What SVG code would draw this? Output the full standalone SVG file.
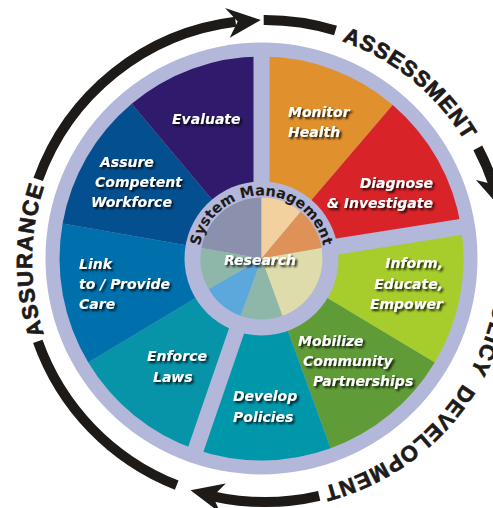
<svg xmlns="http://www.w3.org/2000/svg" width="493" height="508" viewBox="0 0 493 508">
<defs>
<style>
.lab{font-family:"DejaVu Sans",sans-serif;font-weight:bold;font-style:italic;font-size:14px;fill:#fff;filter:url(#sh)}
.ring{font-family:"Liberation Sans",Arial,sans-serif;font-weight:bold;font-size:22px;fill:#1d1a18;stroke:#1d1a18;stroke-width:0.7}
.hub{font-family:"DejaVu Sans",sans-serif;font-weight:bold;font-size:14.5px;fill:#1d1a18}
.arc{fill:none;stroke:#1d1a18;stroke-width:10}
.head{fill:#1d1a18}
.gap{stroke:#b3b7d9;stroke-width:16}
.lav{fill:#b3b7d9}
</style>
<filter id="sh" x="-20%" y="-30%" width="140%" height="170%">
<feDropShadow dx="2" dy="2" stdDeviation="1.2" flood-color="#000" flood-opacity="0.85"/>
</filter>
<path id="tc" d="M265,28 A233,233 0 1,1 265,494 A233,233 0 1,1 265,28"/>
<path id="hc" d="M198.5,258.5 A63,63 0 0,1 324.5,258.5"/>
</defs>
<rect width="493" height="508" fill="#fff"/>

<g id="connectors">
<path class="arc" d="M38.2,179.4 A241,241 0 0,1 235.6,21.8"/>
<polygon class="head" points="260.8,20 225,8.1 237.7,21.5 229.7,37.8"/>
<path class="arc" d="M263.7,20 A241,241 0 0,1 335.5,30.5"/>
<path class="arc" d="M477.8,147.9 A241,241 0 0,1 493.5,184.5"/>
<polygon class="head" points="499.8,206.8 504,169.2 493.5,184.5 476,180"/>
<path class="arc" d="M319.2,495.8 A241,241 0 0,1 212.8,496.3"/>
<polygon class="head" points="190.5,490.2 225.8,483.6 212.8,496.3 220.6,513.1"/>
<path class="arc" d="M176.7,485.2 A241,241 0 0,1 37.8,341.4"/>
</g>

<g id="phase-labels">
<text class="ring" letter-spacing="1"><textPath href="#tc" startOffset="78.5">ASSESSMENT</textPath></text>
<text class="ring" letter-spacing="1.3"><textPath href="#tc" startOffset="392">POLICY</textPath></text>
<text class="ring" letter-spacing="1"><textPath href="#tc" startOffset="495">DEVELOPMENT</textPath></text>
<text class="ring" letter-spacing="1.4"><textPath href="#tc" startOffset="1022.8">ASSURANCE</textPath></text>
</g>

<circle class="lav" cx="261.5" cy="258.5" r="216"/>

<g id="monitor-health">
<path d="M261.5,258.5 L261.5,56.5 A202,202 0 0,1 392.7,104.9 Z" fill="#e0902c"/>
<text class="lab" x="288" y="117">Monitor</text>
<text class="lab" x="288" y="137">Health</text>
</g>
<g id="diagnose-investigate">
<path d="M261.5,258.5 L392.7,104.9 A202,202 0 0,1 461,226.9 Z" fill="#d82328"/>
<text class="lab" x="433" y="188" text-anchor="end">Diagnose</text>
<text class="lab" x="433" y="208" text-anchor="end">&amp; Investigate</text>
</g>
<g id="inform-educate-empower">
<path d="M261.5,258.5 L461,226.9 A202,202 0 0,1 434.7,362.5 Z" fill="#a6cd2b"/>
<text class="lab" x="443" y="268" text-anchor="end">Inform,</text>
<text class="lab" x="443" y="289" text-anchor="end">Educate,</text>
<text class="lab" x="443" y="309" text-anchor="end">Empower</text>
</g>
<g id="mobilize-partnerships">
<path d="M261.5,258.5 L434.7,362.5 A202,202 0 0,1 330.6,448.3 Z" fill="#5f9b36"/>
<text class="lab" x="298" y="346">Mobilize</text>
<text class="lab" x="303" y="366">Community</text>
<text class="lab" x="313" y="386">Partnerships</text>
</g>
<g id="develop-policies">
<path d="M261.5,258.5 L330.6,448.3 A202,202 0 0,1 195.7,449.5 Z" fill="#0097ab"/>
<text class="lab" x="233" y="401">Develop</text>
<text class="lab" x="233" y="422">Policies</text>
</g>
<g id="enforce-laws">
<path d="M261.5,258.5 L195.7,449.5 A202,202 0 0,1 88.3,362.5 Z" fill="#0793a8"/>
<text class="lab" x="147" y="361">Enforce</text>
<text class="lab" x="153" y="382">Laws</text>
</g>
<g id="link-provide-care">
<path d="M261.5,258.5 L88.3,362.5 A202,202 0 0,1 62.6,223.4 Z" fill="#0070ad"/>
<text class="lab" x="79" y="269">Link</text>
<text class="lab" x="79" y="289">to / Provide</text>
<text class="lab" x="79" y="309">Care</text>
</g>
<g id="assure-workforce">
<path d="M261.5,258.5 L62.6,223.4 A202,202 0 0,1 131.7,103.8 Z" fill="#044f90"/>
<text class="lab" x="100" y="167">Assure</text>
<text class="lab" x="95" y="187">Competent</text>
<text class="lab" x="91" y="207">Workforce</text>
</g>
<g id="evaluate">
<path d="M261.5,258.5 L131.7,103.8 A202,202 0 0,1 261.5,56.5 Z" fill="#2f1a6c"/>
<text class="lab" x="172" y="124">Evaluate</text>
</g>

<g id="dividers">
<line class="gap" x1="261.5" y1="258.5" x2="261.5" y2="48.5"/>
<line class="gap" x1="261.5" y1="258.5" x2="468.9" y2="225.6"/>
<line class="gap" x1="261.5" y1="258.5" x2="193.1" y2="457.1"/>
</g>

<g id="hub">
<circle class="lav" cx="261.5" cy="258.5" r="77"/>
<path d="M261.5,258.5 L201.4,247.9 A61,61 0 0,1 261.5,197.5 Z" fill="#8b90ad"/>
<path d="M261.5,258.5 L261.5,197.5 A61,61 0 0,1 300.7,211.8 Z" fill="#f3d19f"/>
<path d="M261.5,258.5 L300.7,211.8 A61,61 0 0,1 321.6,247.9 Z" fill="#de9257"/>
<path d="M261.5,258.5 L321.6,247.9 A61,61 0 0,1 282.4,315.8 Z" fill="#dddcaa"/>
<path d="M261.5,258.5 L282.4,315.8 A61,61 0 0,1 240.6,315.8 Z" fill="#8eb6a9"/>
<path d="M261.5,258.5 L240.6,315.8 A61,61 0 0,1 208.7,289 Z" fill="#5ca7dc"/>
<path d="M261.5,258.5 L208.7,289 A61,61 0 0,1 201.4,247.9 Z" fill="#8eb6a9"/>
<text class="hub"><textPath href="#hc" startOffset="50%" text-anchor="middle">System Management</textPath></text>
<text class="lab" x="260" y="265" text-anchor="middle">Research</text>
</g>
</svg>
